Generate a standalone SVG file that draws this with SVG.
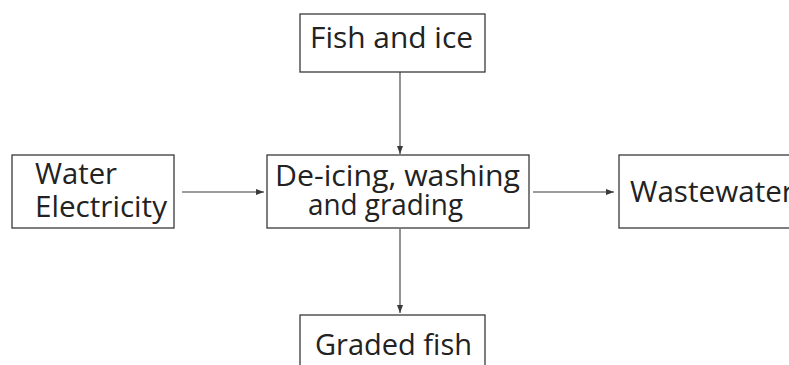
<svg xmlns="http://www.w3.org/2000/svg" width="789" height="365" viewBox="0 0 789 365">
  <style>
    .box { fill: #ffffff; stroke: #3a3a3a; stroke-width: 1.3; }
    .lbl { font-family: "Open Sans", "Liberation Sans", sans-serif; font-size: 30px; fill: #222222; }
    .link { stroke: #3a3a3a; stroke-width: 1.1; fill: none; marker-end: url(#head); }
  </style>
  <defs>
    <marker id="head" viewBox="0 0 8 6" refX="8" refY="3" markerWidth="8" markerHeight="6" markerUnits="userSpaceOnUse" orient="auto">
      <path d="M0,0 L8,3 L0,6 Z" fill="#3a3a3a"/>
    </marker>
  </defs>
  <rect width="789" height="365" fill="#ffffff"/>

  <g id="connectors">
    <line class="link" x1="400" y1="72" x2="400" y2="154"/>
    <line class="link" x1="182" y1="192" x2="264" y2="192"/>
    <line class="link" x1="533" y1="192" x2="614" y2="192"/>
    <line class="link" x1="400" y1="229" x2="400" y2="313"/>
  </g>

  <g id="fish-and-ice">
    <rect class="box" x="300" y="14" width="185" height="58"/>
    <text class="lbl" x="310" y="48" textLength="163" lengthAdjust="spacingAndGlyphs">Fish and ice</text>
  </g>

  <g id="water-electricity">
    <rect class="box" x="12" y="155" width="162" height="73"/>
    <text class="lbl" x="35" y="184" textLength="82" lengthAdjust="spacingAndGlyphs">Water</text>
    <text class="lbl" x="35" y="217" textLength="132" lengthAdjust="spacingAndGlyphs">Electricity</text>
  </g>

  <g id="deicing">
    <rect class="box" x="267" y="155" width="262" height="73"/>
    <text class="lbl" x="275" y="186" textLength="245" lengthAdjust="spacingAndGlyphs">De-icing, washing</text>
    <text class="lbl" x="308" y="215" textLength="155" lengthAdjust="spacingAndGlyphs">and grading</text>
  </g>

  <g id="wastewater">
    <rect class="box" x="619" y="155" width="190" height="73"/>
    <text class="lbl" x="630" y="202" textLength="164" lengthAdjust="spacingAndGlyphs">Wastewater</text>
  </g>

  <g id="graded-fish">
    <rect class="box" x="300" y="315" width="185" height="70"/>
    <text class="lbl" x="315" y="355" textLength="157" lengthAdjust="spacingAndGlyphs">Graded fish</text>
  </g>
</svg>
